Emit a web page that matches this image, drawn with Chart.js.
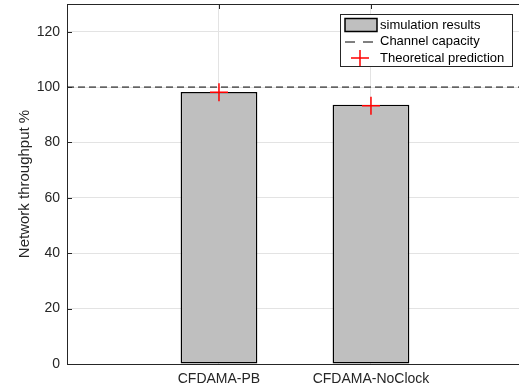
<!DOCTYPE html>
<html>
<head>
<meta charset="utf-8">
<script src="https://cdn.jsdelivr.net/npm/chart.js@4/dist/chart.umd.min.js"></script>
<style>
  html, body { margin: 0; padding: 0; background: #fff; }
  #wrap { width: 519px; height: 390px; }
</style>
</head>
<body>
<div id="wrap"><canvas id="throughputChart"></canvas></div>
<script>
// Chart data
const categories = ['CFDAMA-PB', 'CFDAMA-NoClock'];
const positions = [1, 2];
const simulated = [98.2, 93.6];
const predicted = [98.1, 93.3];
const channelCapacity = 100;
const yTicks = [0, 20, 40, 60, 80, 100, 120];
const legendLabels = ['simulation results', 'Channel capacity', 'Theoretical prediction'];

const FONT = '"Liberation Sans", Arial, Helvetica, sans-serif';
const TEXT = '#262626';

// no extra padding for overhanging tick labels
function noPadding(scale) {
    scale.paddingTop = 0;
    scale.paddingBottom = 0;
    scale.paddingLeft = 0;
    scale.paddingRight = 0;
}

// Small inward tick marks and top frame line, MATLAB style
const frameTicks = {
    id: 'frameTicks',
    afterDatasetsDraw(chart) {
        const { ctx, chartArea: a, scales: { x, y } } = chart;
        ctx.save();
        ctx.strokeStyle = TEXT;
        ctx.lineWidth = 1;
        ctx.beginPath();
        ctx.moveTo(a.left, a.top + 0.5);
        ctx.lineTo(a.right, a.top + 0.5);
        y.ticks.forEach(t => {
            const py = Math.round(y.getPixelForValue(t.value)) + 0.5;
            ctx.moveTo(a.left, py);
            ctx.lineTo(a.left + 5, py);
        });
        x.ticks.forEach(t => {
            const px = Math.round(x.getPixelForValue(t.value)) + 0.5;
            ctx.moveTo(px, a.top);
            ctx.lineTo(px, a.top + 5);
        });
        ctx.stroke();
        ctx.restore();
    }
};

// Legend box inside the plot, upper right
const insideLegend = {
    id: 'insideLegend',
    afterDraw(chart) {
        const { ctx } = chart;
        const bx = 340.5, by = 14.5, bw = 172, bh = 52;
        ctx.save();
        ctx.fillStyle = '#fff';
        ctx.fillRect(bx, by, bw, bh);
        ctx.strokeStyle = TEXT;
        ctx.lineWidth = 1;
        ctx.strokeRect(bx, by, bw, bh);

        const rows = [25, 41.5, 58];
        // bar swatch
        ctx.fillStyle = '#bfbfbf';
        ctx.fillRect(345, 18.5, 32, 13);
        ctx.strokeStyle = '#000';
        ctx.lineWidth = 1.5;
        ctx.strokeRect(345, 18.5, 32, 13);
        // dashed line
        ctx.setLineDash([10, 8]);
        ctx.lineWidth = 1;
        ctx.strokeStyle = '#000';
        ctx.beginPath();
        ctx.moveTo(345, rows[1] + 0.5);
        ctx.lineTo(377, rows[1] + 0.5);
        ctx.stroke();
        ctx.setLineDash([]);
        // cross
        ctx.strokeStyle = '#ff0000';
        ctx.lineWidth = 1.5;
        ctx.beginPath();
        ctx.moveTo(351, rows[2]);
        ctx.lineTo(369, rows[2]);
        ctx.moveTo(360, rows[2] - 8);
        ctx.lineTo(360, rows[2] + 8);
        ctx.stroke();

        ctx.fillStyle = '#000';
        ctx.font = '13px ' + FONT;
        ctx.textBaseline = 'middle';
        ctx.textAlign = 'left';
        legendLabels.forEach((label, i) => ctx.fillText(label, 380, rows[i]));
        ctx.restore();
    }
};

const ctx = document.getElementById('throughputChart').getContext('2d');
const chart = new Chart(ctx, {
    type: 'bar',
    data: {
        datasets: [
            {
                type: 'scatter',
                label: legendLabels[2],
                data: positions.map((p, i) => ({ x: p, y: predicted[i] })),
                pointStyle: 'cross',
                pointRadius: 9,
                pointBorderWidth: 1.5,
                borderColor: '#ff0000',
                backgroundColor: '#ff0000',
                order: 0
            },
            {
                type: 'line',
                label: legendLabels[1],
                data: [{ x: 0, y: channelCapacity }, { x: 3, y: channelCapacity }],
                borderColor: '#000',
                borderWidth: 1,
                borderDash: [7, 4],
                pointRadius: 0,
                fill: false,
                order: 1
            },
            {
                type: 'bar',
                label: legendLabels[0],
                data: positions.map((p, i) => ({ x: p, y: simulated[i] })),
                backgroundColor: '#bfbfbf',
                borderColor: '#000',
                borderWidth: 1.5,
                borderSkipped: false,
                categoryPercentage: 1,
                barPercentage: 0.505,
                order: 2
            }
        ]
    },
    options: {
        responsive: true,
        maintainAspectRatio: false,
        animation: false,
        layout: { autoPadding: false, padding: { top: 4, right: 0, left: 0, bottom: 0 } },
        plugins: {
            legend: { display: false },
            tooltip: { enabled: false }
        },
        scales: {
            x: {
                type: 'linear',
                min: 0,
                max: 2.974,
                offset: false,
                afterFit(scale) { scale.height = 26; noPadding(scale); },
                afterBuildTicks(scale) {
                    scale.ticks = positions.map(p => ({ value: p }));
                },
                ticks: {
                    autoSkip: false,
                    maxRotation: 0,
                    padding: 7,
                    color: TEXT,
                    font: { family: FONT, size: 14 },
                    callback: value => categories[positions.indexOf(value)] || ''
                },
                grid: { color: '#e3e3e3', drawTicks: false, offset: false },
                border: { display: true, color: TEXT, width: 1 }
            },
            y: {
                min: 0,
                max: 130,
                afterFit(scale) { scale.width = 67; noPadding(scale); },
                afterBuildTicks(scale) {
                    scale.ticks = yTicks.map(v => ({ value: v }));
                },
                ticks: {
                    padding: 7,
                    color: TEXT,
                    font: { family: FONT, size: 14 }
                },
                grid: { color: '#e3e3e3', drawTicks: false },
                border: { display: true, color: TEXT, width: 1 },
                title: {
                    display: true,
                    text: 'Network throughput %',
                    color: TEXT,
                    font: { family: FONT, size: 15 },
                    padding: { top: 16, bottom: 0 }
                }
            }
        }
    },
    plugins: [frameTicks, insideLegend]
});
</script>
</body>
</html>
